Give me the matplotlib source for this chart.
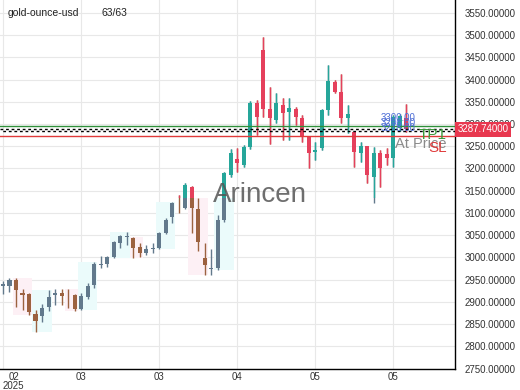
import matplotlib
matplotlib.use('Agg')
import matplotlib.pyplot as plt
from matplotlib.patches import Rectangle

plt.rcParams['font.family'] = 'Liberation Sans'

# OHLC dos 63 candles
opens = [2935, 2936, 2950, 2920, 2918, 2873, 2868, 2888, 2915, 2919,
         2912, 2916, 2884, 2911, 2938, 2983, 2985, 3000, 3033, 3046,
         3044, 3024, 3011, 3019, 3021, 3055, 3091, 3127, 3111, 3159,
         3109, 2999, 2975, 2977, 3084, 3186, 3222, 3208, 3248, 3347,
         3467, 3334, 3310, 3343, 3327, 3334, 3314, 3271, 3237, 3246,
         3332, 3395, 3372, 3314, 3282, 3235, 3251, 3181, 3235, 3233,
         3224, 3290, 3314]
highs = [2947, 2954, 2954, 2929, 2920, 2882, 2895, 2927, 2929, 2929,
         2929, 2917, 2920, 2942, 2990, 3003, 3004, 3037, 3050, 3057,
         3046, 3032, 3028, 3032, 3057, 3089, 3125, 3140, 3168, 3160,
         3134, 3032, 3020, 3095, 3192, 3244, 3246, 3252, 3352, 3354,
         3496, 3383, 3370, 3359, 3359, 3338, 3320, 3272, 3260, 3334,
         3433, 3399, 3412, 3343, 3283, 3260, 3251, 3249, 3242, 3246,
         3320, 3322, 3345]
lows = [2918, 2922, 2888, 2882, 2871, 2832, 2855, 2879, 2893, 2893,
        2886, 2879, 2882, 2906, 2931, 2976, 2979, 2999, 3021, 3028,
        2999, 3001, 3005, 3010, 3019, 3053, 3078, 3100, 3109, 3055,
        3015, 2960, 2960, 2972, 3080, 3181, 3192, 3204, 3244, 3275,
        3316, 3254, 3302, 3264, 3264, 3298, 3260, 3201, 3219, 3242,
        3321, 3370, 3302, 3280, 3203, 3215, 3168, 3122, 3158, 3208,
        3203, 3284, 3283]
closes = [2940, 2949, 2927, 2916, 2877, 2858, 2886, 2911, 2919, 2913,
          2910, 2884, 2913, 2936, 2986, 2986, 3001, 3035, 3048, 3047,
          3021, 3010, 3020, 3021, 3055, 3084, 3122, 3126, 3163, 3111,
          3035, 2983, 2977, 3084, 3190, 3235, 3213, 3248, 3347, 3316,
          3333, 3314, 3347, 3325, 3336, 3316, 3271, 3235, 3241, 3332,
          3397, 3372, 3314, 3323, 3237, 3251, 3186, 3235, 3201, 3224,
          3316, 3318, 3287.74]

tick_idx = [0, 12, 24, 36, 48, 60]
tick_labels = ['02\n2025', '03', '03', '04', '05', '05']
y_ticks = list(range(2750, 3551, 50))

# zonas sombreadas (inicio, fim, tipo)
zone_start = [2, 5, 10, 12, 17, 20, 24, 29, 33]
zone_end = [4, 7, 11, 14, 19, 21, 26, 31, 35]
zone_kind = ['down', 'up', 'down', 'up', 'up', 'down', 'up', 'down', 'up']

split_level = 3133
level_tp = 3296
level_price = 3287.74
level_entry = 3284
level_sl = 3274
line_labels = ['3300.00', '3296.00', '3278.00']
line_label_y = [3313, 3302.5, 3292]

fig = plt.figure(figsize=(5.2, 3.9), dpi=100)
ax = fig.add_axes([0, 21 / 390, 455 / 520, 369 / 390])
ax.set_xlim(-0.46, 69.5)
ax.set_ylim(2749, 3579)

n = len(opens)
xs = list(range(n))


def draw_candles(up_col, down_col, clip=None):
    cols = [up_col if c >= o else down_col for o, c in zip(opens, closes)]
    wicks = ax.vlines(xs, lows, highs, colors=cols, linewidth=1.0, zorder=3)
    bottoms = [min(o, c) for o, c in zip(opens, closes)]
    heights = [max(abs(c - o), 1.6) for o, c in zip(opens, closes)]
    bars = ax.bar(xs, heights, bottom=bottoms, width=0.62, color=cols,
                  linewidth=0, zorder=4)
    if clip is not None:
        wicks.set_clip_path(clip)
        for b in bars.patches:
            b.set_clip_path(clip)


# sombreamento abaixo do nivel de corte
for s, e, k in zip(zone_start, zone_end, zone_kind):
    lo = min(lows[s:e + 1])
    hi = min(max(highs[s:e + 1]), split_level)
    fc = '#ebfbfb' if k == 'up' else '#fdf0f5'
    ax.add_patch(Rectangle((s - 0.5, lo), e - s + 1, hi - lo, facecolor=fc,
                           edgecolor='none', zorder=1))

draw_candles('#62798c', '#9c6240')
clip_rect = Rectangle((-5, split_level), 100, 1000, transform=ax.transData)
draw_candles('#26a69a', '#e5405c', clip=clip_rect)

# linhas de nivel
ax.axhline(level_tp, color='#2f8f3a', lw=1.0, zorder=5)
ax.axhline(level_price, color='black', lw=1.0, ls=(0, (2, 2)), zorder=5)
ax.axhline(level_entry, color='black', lw=1.0, ls=(2, (2, 2)), zorder=5)
ax.axhline(level_sl, color='#e03a3a', lw=1.0, zorder=5)

for lab, yv in zip(line_labels, line_label_y):
    ax.text(58, yv, lab, color='#4f6fd6', fontsize=7, ha='left',
            va='center', zorder=6)

ytr = ax.get_yaxis_transform()
ax.text(0.982, 3275.5, 'TP1', transform=ytr, color='#3a9a3a', fontsize=11,
        ha='right', va='center', zorder=6)
ax.text(0.982, 3255, 'At Price', transform=ytr, color='#8a8a8a',
        fontsize=10.5, ha='right', va='center', zorder=6)
ax.text(0.982, 3245, 'SL', transform=ytr, color='#e03a3a', fontsize=11,
        ha='right', va='center', zorder=6)

ax.text(1.005, level_price, '3287.74000', transform=ytr, color='white',
        fontsize=7, ha='left', va='center', clip_on=False, zorder=10,
        bbox=dict(boxstyle='square,pad=0.25', fc='#e8384f', ec='none'))

# marca d'agua
ax.text(0.571, 0.4526, 'Arincen', transform=ax.transAxes, fontsize=20,
        color='#555555', alpha=0.85, ha='center', va='baseline', zorder=7)

fig.text(8 / 520, 1 - 13 / 390, 'gold-ounce-usd', fontsize=7.5,
         color='#222222', va='center')
fig.text(101 / 520, 1 - 13 / 390, '63/63', fontsize=7.5, color='#222222',
         va='center')

# eixos
ax.yaxis.tick_right()
ax.set_yticks(y_ticks)
ax.set_yticklabels([f'{v:.5f}' for v in y_ticks])
ax.tick_params(axis='y', length=0, pad=7, labelsize=7, labelcolor='#333333')
ax.set_xticks(tick_idx)
ax.set_xticklabels(tick_labels)
ax.tick_params(axis='x', length=0, pad=2, labelsize=7, labelcolor='#333333')
xl = ax.get_xticklabels()
xl[0].set_ha('left')
xl[0].set_multialignment('center')
for lab in xl:
    lab.set_linespacing(0.95)

ax.grid(True, color='#e8e8e8', lw=0.8)
ax.set_axisbelow(True)
for side in ['top', 'left']:
    ax.spines[side].set_visible(False)
for side in ['bottom', 'right']:
    ax.spines[side].set_color('black')
    ax.spines[side].set_linewidth(1.0)

fig.savefig('out.png', dpi=100)
